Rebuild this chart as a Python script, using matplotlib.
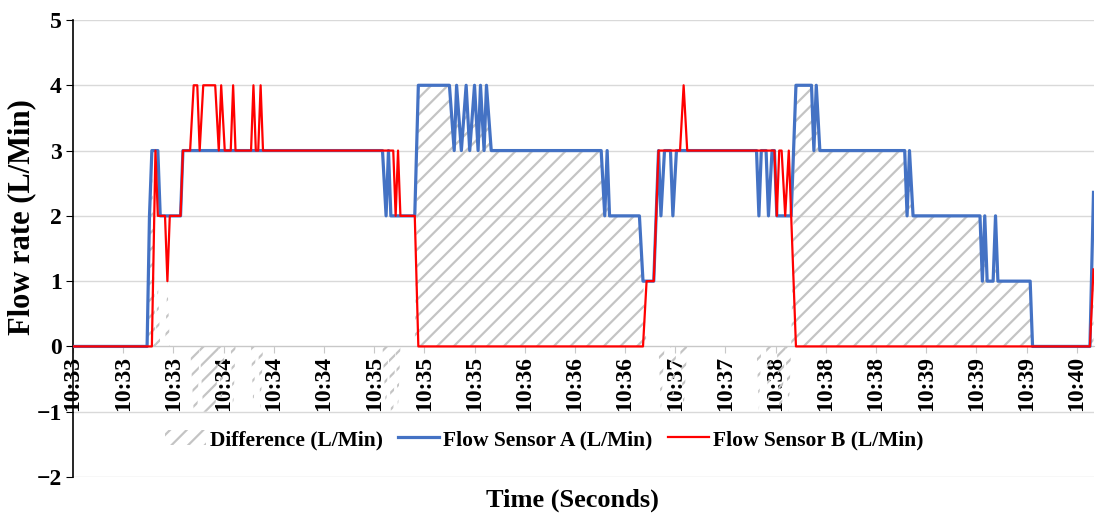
import numpy as np
import matplotlib
matplotlib.use("Agg")
import matplotlib.pyplot as plt
from matplotlib.patches import Patch
from matplotlib.lines import Line2D

plt.rcParams['font.family'] = ['Liberation Serif', 'DejaVu Serif']
plt.rcParams['font.weight'] = 'bold'
plt.rcParams['hatch.linewidth'] = 1.6
plt.rcParams['hatch.color'] = '#c4c4c4'

# -------------------------------------------------
# data: seconds from start, flow of both sensors (L/Min)
# -------------------------------------------------
time_s = [0, 31, 32, 33, 34.5, 35.5, 36.5, 38.5, 39.5, 40.5, 45, 46,
          49, 50.5, 52, 53, 54.5, 59.5, 61, 62, 63.5, 66, 67, 68,
          74.5, 75.5, 76.5, 77.5, 78.5, 79.5,
          129.5, 131, 132, 133, 134, 135, 136, 137, 143, 144.5,
          157.5, 159.5, 160.5, 162.5, 164.5, 166, 168, 169.5, 170.5, 172, 173, 175,
          221, 222.5, 223.5, 224.5, 237, 238.5, 240, 243, 245,
          246, 247.5, 250, 251, 252.5, 254, 255.5, 257,
          286, 287, 288, 290, 291, 292.5, 293.5, 294.5, 295.5, 296.5, 298, 299.5, 300.5, 302.5,
          309, 310, 311, 312.5, 348, 349, 350, 351.5,
          379.5, 380.5, 381.5, 382.5, 385, 386, 387, 400.5, 401.5, 425.5, 427]

sensor_a = [0, 0, 2, 3, 3, 3, 2, 2, 2, 2, 2, 3,
            3, 3, 3, 3, 3, 3, 3, 3, 3, 3, 3, 3,
            3, 3, 3, 3, 3, 3,
            3, 2, 3, 2, 2, 2, 2, 2, 2, 4,
            4, 3, 4, 3, 4, 3, 4, 3, 4, 3, 4, 3,
            3, 2, 3, 2, 2, 1, 1, 1, 3,
            2, 3, 3, 2, 3, 3, 3, 3,
            3, 2, 3, 3, 2, 3, 3, 2, 2, 2, 2, 2, 2, 4,
            4, 3, 4, 3, 3, 2, 3, 2,
            2, 1, 2, 1, 1, 2, 1, 1, 0, 0, 2.36]

sensor_b = [0, 0, 0, 0, 3, 2, 2, 2, 1, 2, 2, 3,
            3, 4, 4, 3, 4, 4, 3, 4, 3, 3, 4, 3,
            3, 4, 3, 3, 4, 3,
            3, 3, 3, 3, 3, 2, 3, 2, 2, 0,
            0, 0, 0, 0, 0, 0, 0, 0, 0, 0, 0, 0,
            0, 0, 0, 0, 0, 0, 1, 1, 3,
            3, 3, 3, 3, 3, 3, 4, 3,
            3, 3, 3, 3, 3, 3, 3, 2, 3, 3, 2, 3, 2, 0,
            0, 0, 0, 0, 0, 0, 0, 0,
            0, 0, 0, 0, 0, 0, 0, 0, 0, 0, 1.18]

tick_labels = ['10:33', '10:33', '10:33', '10:34', '10:34', '10:34', '10:35',
               '10:35', '10:35', '10:36', '10:36', '10:36', '10:37', '10:37',
               '10:38', '10:38', '10:38', '10:39', '10:39', '10:39', '10:40']

t = np.array(time_s, dtype=float)
a = np.array(sensor_a, dtype=float)
b = np.array(sensor_b, dtype=float)
diff = a - b

# -------------------------------------------------
# plot
# -------------------------------------------------
fig = plt.figure(figsize=(10.96, 5.19), dpi=100)
ax = fig.add_axes([73 / 1096, 1 - 477 / 519, (1093.5 - 73) / 1096, 457 / 519])

# spines first: moving a spine resets the tick settings
ax.spines['top'].set_visible(False)
ax.spines['right'].set_visible(False)
ax.spines['bottom'].set_position(('data', 0))
ax.spines['bottom'].set_color('#c8c8c8')
ax.spines['left'].set_color('black')
ax.spines['left'].set_linewidth(1.2)

hatch_col = '#c4c4c4'
ax.fill_between(t, diff, 0, facecolor='none', edgecolor=hatch_col,
                hatch='//', linewidth=0, zorder=1)
ax.plot(t, a, color='#4472C4', lw=2.3, zorder=3)
ax.plot(t, b, color='#FF0000', lw=1.6, zorder=4)

ax.set_xlim(0, 427)
ax.set_ylim(-2, 5)
ax.set_yticks(range(-2, 6))
ax.yaxis.grid(True, color='#d9d9d9', lw=1)
ax.set_axisbelow(True)

step = 21
ax.set_xticks(np.arange(len(tick_labels)) * step)
ax.set_xticklabels(tick_labels)
ax.tick_params(axis='x', direction='out', length=5, color='#c8c8c8', pad=2,
               labelrotation=90, labelsize=17)
ax.tick_params(axis='y', direction='out', length=5, color='black', pad=3,
               labelsize=17)
for lab in ax.get_xticklabels() + ax.get_yticklabels():
    lab.set_fontweight('bold')

fig.text(22 / 1096, 1 - 217 / 519, 'Flow rate (L/Min)', rotation=90,
         ha='center', va='center', fontsize=22, fontweight='bold')
fig.text(572 / 1096, 1 - 500 / 519, 'Time (Seconds)', ha='center',
         va='center', fontsize=19, fontweight='bold')

handles = [Patch(facecolor='none', edgecolor=hatch_col, hatch='//', lw=0),
           Line2D([], [], color='#4472C4', lw=2.3),
           Line2D([], [], color='#FF0000', lw=1.6)]
labels = ['Difference (L/Min)', 'Flow Sensor A (L/Min)', 'Flow Sensor B (L/Min)']
fig.legend(handles, labels, loc='center', ncol=3,
           bbox_to_anchor=(544 / 1096, 1 - 440 / 519), frameon=False,
           prop={'size': 15.5, 'weight': 'bold'}, handlelength=1.9,
           handletextpad=0.2, columnspacing=0.7)

fig.savefig('out.png', dpi=100)
